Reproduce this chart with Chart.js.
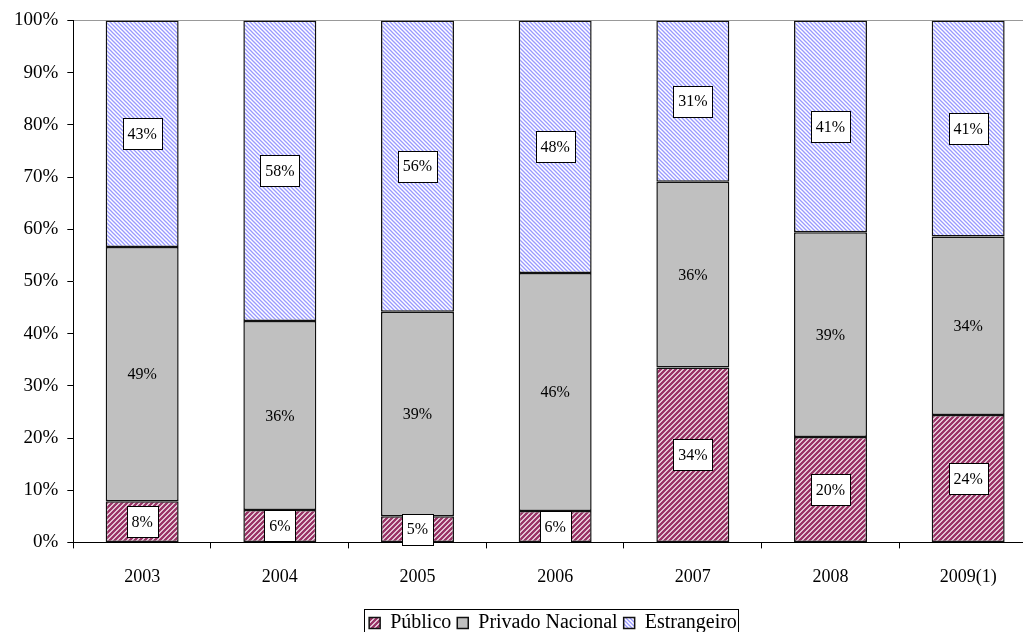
<!DOCTYPE html>
<html>
<head>
<meta charset="utf-8">
<script src="https://cdn.jsdelivr.net/npm/chart.js@4/dist/chart.umd.min.js"></script>
<style>
  html, body { margin: 0; padding: 0; background: #fff; overflow: hidden; }
  #wrap { width: 1023px; height: 632px; overflow: hidden; }
  canvas { display: block; }
</style>
</head>
<body>
<div id="wrap"><canvas id="grafico" width="1037" height="643"></canvas></div>
<script>
// Participação por origem do capital (%)
const anos = ["2003", "2004", "2005", "2006", "2007", "2008", "2009(1)"];
const publico = [7.9, 6.2, 5.0, 6.0, 33.5, 20.2, 24.4];
const privadoNacional = [48.7, 36.2, 39.2, 45.6, 35.6, 39.2, 34.2];
const estrangeiro = [43.4, 57.6, 55.8, 48.4, 30.9, 40.6, 41.4];
const ticksY = [0, 10, 20, 30, 40, 50, 60, 70, 80, 90, 100];

const FONTE = '"Liberation Serif", "Times New Roman", serif';

// hachuras
function hachura(cor, tam, larg, sentido) {
    const c = document.createElement("canvas");
    c.width = tam; c.height = tam;
    const g = c.getContext("2d");
    g.fillStyle = "#fff";
    g.fillRect(0, 0, tam, tam);
    g.strokeStyle = cor;
    g.lineWidth = larg;
    g.beginPath();
    if (sentido === "/") {
        g.moveTo(-1, tam + 1); g.lineTo(tam + 1, -1);
        g.moveTo(-1, 1); g.lineTo(1, -1);
        g.moveTo(tam - 1, tam + 1); g.lineTo(tam + 1, tam - 1);
    } else {
        g.moveTo(-1, -1); g.lineTo(tam + 1, tam + 1);
        g.moveTo(tam - 1, -1); g.lineTo(tam + 1, 1);
        g.moveTo(-1, tam - 1); g.lineTo(1, tam + 1);
    }
    g.stroke();
    return g.createPattern(c, "repeat");
}

const padraoPublico = hachura("#993366", 5, 2.5, "/");
const padraoEstrangeiro = hachura("#9999ff", 4, 1.3, "\\");

// rótulos de valor no meio de cada segmento
const rotulos = {
    id: "rotulos",
    afterDatasetsDraw(chart) {
        const ctx = chart.ctx;
        ctx.save();
        ctx.font = "16px " + FONTE;
        ctx.textAlign = "center";
        ctx.textBaseline = "middle";
        chart.data.datasets.forEach((ds, i) => {
            const meta = chart.getDatasetMeta(i);
            meta.data.forEach((bar, j) => {
                const txt = Math.round(ds.data[j]) + "%";
                const x = bar.x;
                const y = (bar.y + bar.base) / 2;
                if (ds.caixa) {
                    const w = Math.round(ctx.measureText(txt).width + 10);
                    const h = 31;
                    const bx = Math.round(x - w / 2) + 0.5;
                    const by = Math.round(y - h / 2) + 0.5;
                    ctx.fillStyle = "#fff";
                    ctx.fillRect(bx, by, w, h);
                    ctx.strokeStyle = "#000";
                    ctx.lineWidth = 1;
                    ctx.strokeRect(bx, by, w, h);
                }
                ctx.fillStyle = "#000";
                ctx.fillText(txt, x, y + 1);
            });
        });
        ctx.restore();
    }
};

// legenda um pouco à direita do centro, com moldura
const DESLOC_LEGENDA = 32;
const legendaDeslocada = {
    id: "legendaDeslocada",
    afterLayout(chart) {
        if (!chart.legend) return;
        chart.legend.left += DESLOC_LEGENDA;
        chart.legend.right += DESLOC_LEGENDA;
    },
    afterDraw(chart) {
        const caixas = chart.legend && chart.legend.legendHitBoxes;
        if (!caixas || !caixas.length) return;
        let x0 = Infinity, x1 = -Infinity, y0 = Infinity, y1 = -Infinity;
        caixas.forEach(b => {
            x0 = Math.min(x0, b.left);
            x1 = Math.max(x1, b.left + b.width);
            y0 = Math.min(y0, b.top);
            y1 = Math.max(y1, b.top + b.height);
        });
        const ctx = chart.ctx;
        ctx.save();
        ctx.strokeStyle = "#000";
        ctx.lineWidth = 1;
        ctx.strokeRect(Math.round(x0 - 5) + 0.5, Math.round(y0 - 4) + 0.5, Math.round(x1 - x0 + 6), Math.round(y1 - y0 + 10));
        ctx.restore();
    }
};

new Chart(document.getElementById("grafico"), {
    type: "bar",
    data: {
        labels: anos,
        datasets: [
            { label: "Público", data: publico, backgroundColor: padraoPublico, caixa: true },
            { label: "Privado Nacional", data: privadoNacional, backgroundColor: "#c0c0c0", caixa: false },
            { label: "Estrangeiro", data: estrangeiro, backgroundColor: padraoEstrangeiro, caixa: true }
        ].map(d => Object.assign(d, {
            borderColor: "#111",
            borderWidth: 1.5,
            borderSkipped: false,
            categoryPercentage: 1,
            barPercentage: 0.53
        }))
    },
    options: {
        responsive: false,
        animation: false,
        layout: { padding: { left: 5, top: 14, right: 0, bottom: 0 } },
        plugins: {
            tooltip: { enabled: false },
            legend: {
                position: "bottom",
                labels: {
                    font: { family: FONTE, size: 20 },
                    color: "#000",
                    boxWidth: 11,
                    boxHeight: 11,
                    padding: 6,
                    useBorderRadius: false
                }
            }
        },
        scales: {
            x: {
                stacked: true,
                grid: {
                    offset: true,
                    drawOnChartArea: false,
                    tickLength: 6,
                    tickColor: "#000",
                    color: "#000"
                },
                border: { color: "#000", width: 1 },
                ticks: {
                    font: { family: FONTE, size: 18 },
                    color: "#000",
                    padding: 18.5
                }
            },
            y: {
                stacked: true,
                min: 0,
                max: 100,
                afterBuildTicks(axis) {
                    axis.ticks = ticksY.map(v => ({ value: v }));
                },
                grid: {
                    color: c => (c.tick && c.tick.value === 100 ? "#999" : "transparent"),
                    tickColor: "#000",
                    tickLength: 6
                },
                border: { color: "#000", width: 1 },
                ticks: {
                    font: { family: FONTE, size: 19 },
                    color: "#000",
                    padding: 9,
                    callback: v => v + "%"
                }
            }
        }
    },
    plugins: [rotulos, legendaDeslocada]
});
</script>
</body>
</html>
